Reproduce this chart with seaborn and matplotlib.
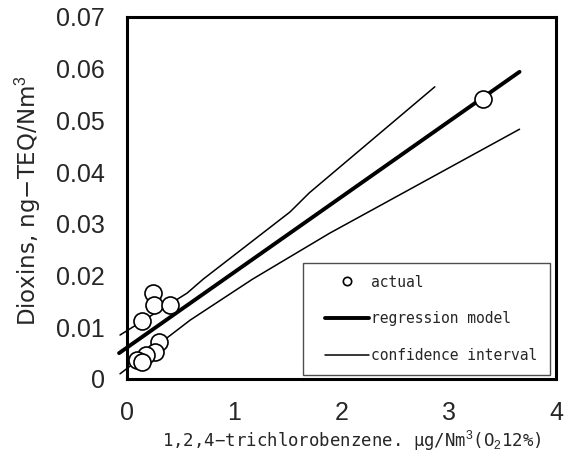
import matplotlib
matplotlib.use("Agg")
import matplotlib.pyplot as plt
import seaborn as sns
import pandas as pd
from matplotlib.lines import Line2D
from matplotlib.legend_handler import HandlerLine2D

# Data
actual_x = [0.24, 0.25, 0.40, 0.14, 0.30, 0.26, 0.18, 0.09, 0.14, 3.32]
actual_y = [0.0166, 0.0143, 0.0143, 0.0112, 0.0072, 0.0052, 0.0046, 0.0037, 0.0033, 0.0541]

reg_x = [-0.074, 3.66]
reg_y = [0.0050, 0.0594]

upper_x = [-0.065, 0.56, 0.71, 1.52, 1.70, 2.87]
upper_y = [0.0085, 0.0166, 0.0193, 0.0323, 0.0360, 0.0565]

lower_x = [-0.065, 0.59, 1.17, 1.89, 3.66]
lower_y = [0.0010, 0.0114, 0.0193, 0.0282, 0.0483]

x_ticks = [0, 1, 2, 3, 4]
y_ticks = [0, 0.01, 0.02, 0.03, 0.04, 0.05, 0.06, 0.07]
y_tick_labels = ["0", "0.01", "0.02", "0.03", "0.04", "0.05", "0.06", "0.07"]

sns.set_style("white")
plt.rcParams['font.family'] = ['Liberation Sans', 'DejaVu Sans']
plt.rcParams['mathtext.fontset'] = 'custom'
plt.rcParams['mathtext.rm'] = 'Liberation Sans'

fig = plt.figure(figsize=(5.64, 4.72), dpi=100)
ax = fig.add_axes([127/564, 1-379/472, (556-127)/564, (379-17)/472])

df_pts = pd.DataFrame({"x": actual_x, "y": actual_y})
df_reg = pd.DataFrame({"x": reg_x, "y": reg_y})
df_up = pd.DataFrame({"x": upper_x, "y": upper_y})
df_lo = pd.DataFrame({"x": lower_x, "y": lower_y})

for d in (df_up, df_lo):
    sns.lineplot(data=d, x="x", y="y", ax=ax, color="black", linewidth=1.1,
                 sort=False, estimator=None, clip_on=False)
sns.lineplot(data=df_reg, x="x", y="y", ax=ax, color="black", linewidth=2.8,
             sort=False, estimator=None, clip_on=False)
sns.scatterplot(data=df_pts, x="x", y="y", ax=ax, s=150, facecolor="white",
                edgecolor="black", linewidth=1.2, zorder=5, clip_on=False)

ax.set_xlim(0, 4)
ax.set_ylim(0, 0.07)
ax.set_xticks(x_ticks)
ax.set_xticklabels([str(t) for t in x_ticks])
ax.set_yticks(y_ticks)
ax.set_yticklabels(y_tick_labels)
ax.tick_params(axis="both", direction="in", length=9, width=1, color="#777777",
               labelsize=18)
ax.tick_params(axis="y", pad=16)
ax.tick_params(axis="x", pad=16)
for sp in ax.spines.values():
    sp.set_visible(True)
    sp.set_color("black")
    sp.set_linewidth(2.2)

ax.set_ylabel("Dioxins, ng\u2212TEQ/Nm$^3$", fontsize=16.5,
              family=['DejaVu Sans'])
ax.yaxis.set_label_coords(-0.196, 0.494)
ax.set_xlabel("1,2,4\u2212trichlorobenzene. \u03bcg/Nm$^3$(O$_2$12%)",
              fontsize=12.5, family=['DejaVu Sans Mono', 'DejaVu Sans'])
ax.xaxis.set_label_coords(0.523, -0.137)

handles = [
    Line2D([], [], marker="o", linestyle="none", markerfacecolor="white",
           markeredgecolor="black", markersize=6, markeredgewidth=1.2),
    Line2D([], [], color="black", linewidth=2.8),
    Line2D([], [], color="black", linewidth=1.1),
]
labels = ["actual", "regression model", "confidence interval"]
leg = ax.legend(handles, labels, loc="lower left",
                bbox_to_anchor=(0.41, 0.011, 0.576, 0.304), mode="expand",
                borderaxespad=0,
                frameon=True, fancybox=False, edgecolor="#222222",
                handlelength=3.7, handletextpad=0.2,
                labelspacing=1.5, borderpad=0.8,
                handler_map={Line2D: HandlerLine2D(xpad=0.7)},
                prop={'family': ['DejaVu Sans Mono', 'DejaVu Sans'], 'size': 10.5})
leg.get_frame().set_linewidth(1.0)

fig.savefig("out.png", dpi=100)
